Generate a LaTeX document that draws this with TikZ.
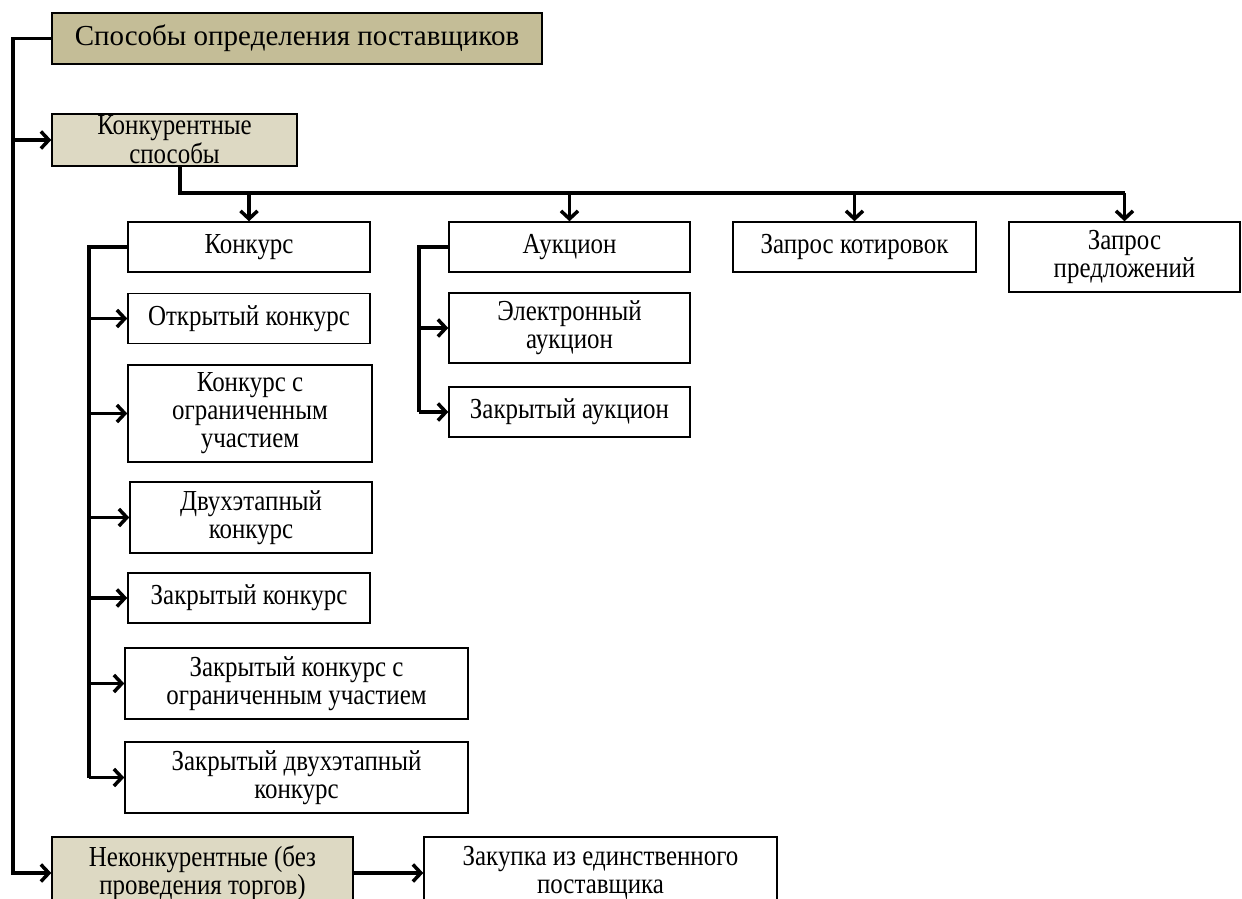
\documentclass[tikz,border=0pt]{standalone}
\usepackage{fontspec}
\setmainfont{Liberation Serif}
\newfontfamily\narrowserif{Liberation Serif}[FakeStretch=0.86]
\usepackage{tikz}
\usetikzlibrary{arrows.meta}
\definecolor{headtan}{HTML}{C4BD97}
\definecolor{subtan}{HTML}{DDD9C3}

\begin{document}
\begin{tikzpicture}[x=1pt, y=-1pt,
    box/.style={draw, line width=1.4pt, align=center, inner sep=2pt,
                font=\narrowserif\fontsize{29}{28}\selectfont},
    conn/.style={line width=3.5pt},
    arr/.style={line width=3.5pt, -{Straight Barb[length=8pt, width=17pt, line width=3.5pt]}}
    ]
\useasboundingbox (0,0) rectangle (1242,899);
\clip (0,0) rectangle (1242,899);
%%% top level
\node[box, fill=headtan, minimum width=490pt, minimum height=51pt,
      font=\fontsize{29}{30}\selectfont] (sposoby) at (297,38.5)
      {Способы определения поставщиков};
\node[box, fill=subtan, minimum width=245pt, minimum height=52pt,
      font=\narrowserif\fontsize{29}{29}\selectfont] (konkur) at (174.5,140)
      {Конкурентные\\способы};
\node[box, fill=subtan, minimum width=301pt, minimum height=72pt] (nekonkur) at (202.5,873)
      {Неконкурентные (без\\проведения торгов)};
\node[box, minimum width=353pt, minimum height=72pt] (edinstv) at (600.5,873)
      {Закупка из единственного\\поставщика};
%%% second level
\node[box, minimum width=242pt, minimum height=50pt] (konkurs) at (249,247) {Конкурс};
\node[box, minimum width=241pt, minimum height=50pt] (aukcion) at (569.5,247) {Аукцион};
\node[box, minimum width=243pt, minimum height=50pt] (kotirov) at (854.5,247) {Запрос котировок};
\node[box, minimum width=231pt, minimum height=70pt] (predlog) at (1124.5,257) {Запрос\\предложений};
%%% konkurs kinds
\node[box, minimum width=242pt, minimum height=50pt] (otkr) at (249,318.5) {Открытый конкурс};
\node[box, minimum width=244pt, minimum height=97pt] (ogran) at (250,413.5)
      {Конкурс с\\ограниченным\\участием};
\node[box, minimum width=242pt, minimum height=71pt] (dvuh) at (251,517.5) {Двухэтапный\\конкурс};
\node[box, minimum width=242pt, minimum height=50pt] (zakr) at (249,598) {Закрытый конкурс};
\node[box, minimum width=343pt, minimum height=71pt] (zogran) at (296.5,683.5)
      {Закрытый конкурс с\\ограниченным участием};
\node[box, minimum width=343pt, minimum height=71pt] (zdvuh) at (296.5,777.5)
      {Закрытый двухэтапный\\конкурс};
%%% aukcion kinds
\node[box, minimum width=241pt, minimum height=70pt] (elektr) at (569.5,328)
      {Электронный\\аукцион};
\node[box, minimum width=241pt, minimum height=50pt] (zauk) at (569.5,412) {Закрытый аукцион};
%%% connectors
\coordinate (spine) at (13,0);
\coordinate (bus) at (180,193);
\coordinate (kspine) at (89,0);
\coordinate (aspine) at (419,0);
\draw[arr] (sposoby.west) -- (sposoby.west -| spine) |- (nekonkur.west);
\draw[arr] (spine |- konkur.west) -- (konkur.west);
\draw[arr] (nekonkur.east) -- (edinstv.west);
\draw[conn] (konkur.south -| bus) -- (bus) -- (bus -| predlog.north);
\foreach \n in {konkurs, aukcion, kotirov, predlog}
    \draw[arr] (bus -| \n.north) -- (\n.north);
\draw[conn] (konkurs.west) -- (konkurs.west -| kspine) -- (kspine |- zdvuh.west);
\foreach \n in {otkr, ogran, dvuh, zakr, zogran, zdvuh}
    \draw[arr] (kspine |- \n.west) -- (\n.west);
\draw[conn] (aukcion.west) -- (aukcion.west -| aspine) -- (aspine |- zauk.west);
\foreach \n in {elektr, zauk}
    \draw[arr] (aspine |- \n.west) -- (\n.west);
\end{tikzpicture}
\end{document}
